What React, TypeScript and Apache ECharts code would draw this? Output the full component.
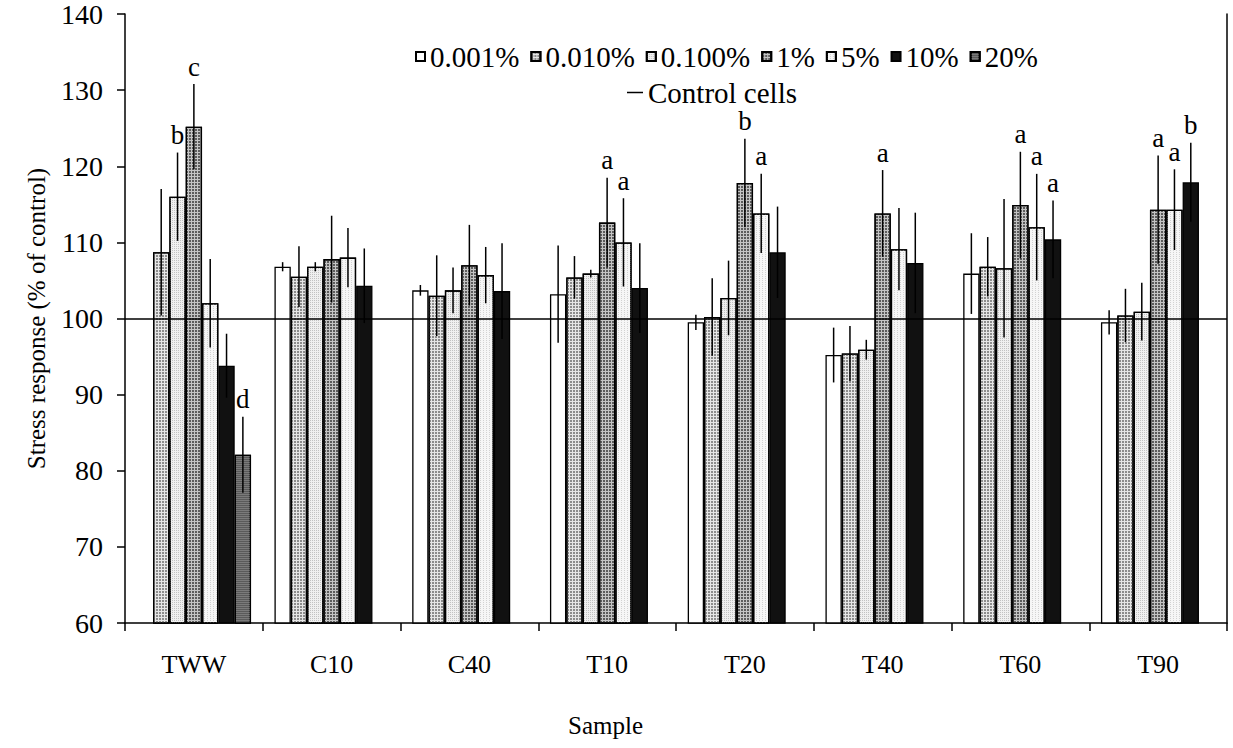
import React, { useEffect, useRef } from 'react';
import * as echarts from 'echarts';

const categories = ['TWW', 'C10', 'C40', 'T10', 'T20', 'T40', 'T60', 'T90'];
const seriesNames = ['0.001%', '0.010%', '0.100%', '1%', '5%', '10%', '20%'];
const controlName = 'Control cells';

const v0001 = [null, 106.8, 103.7, 103.2, 99.5, 95.2, 105.9, 99.5];
const v0010 = [108.7, 105.5, 103.0, 105.4, 100.2, 95.4, 106.8, 100.4];
const v0100 = [116.0, 106.8, 103.7, 105.9, 102.7, 95.9, 106.6, 100.9];
const v1 = [125.2, 107.8, 107.0, 112.6, 117.8, 113.8, 114.9, 114.3];
const v5 = [102.0, 108.0, 105.7, 110.0, 113.8, 109.1, 112.0, 114.3];
const v10 = [93.8, 104.3, 103.6, 104.0, 108.7, 107.3, 110.4, 117.9];
const v20 = [82.1, null, null, null, null, null, null, null];

const e0001 = [null, 0.6, 0.7, 6.4, 1.0, 3.6, 5.3, 1.6];
const e0010 = [8.3, 4.0, 5.3, 2.8, 5.1, 3.6, 3.9, 3.5];
const e0100 = [5.8, 0.6, 3.0, 0.5, 4.9, 1.3, 9.1, 3.8];
const e1 = [5.6, 5.7, 5.3, 5.9, 5.8, 5.7, 7.0, 7.1];
const e5 = [5.8, 3.9, 3.7, 5.8, 5.2, 5.4, 7.0, 5.3];
const e10 = [4.2, 4.9, 6.3, 5.9, 6.0, 6.6, 5.1, 5.2];
const e20 = [5.0, null, null, null, null, null, null, null];

const l0001 = ['', '', '', '', '', '', '', ''];
const l0010 = ['', '', '', '', '', '', '', ''];
const l0100 = ['b', '', '', '', '', '', '', ''];
const l1 = ['c', '', '', 'a', 'b', 'a', 'a', 'a'];
const l5 = ['', '', '', 'a', 'a', '', 'a', 'a'];
const l10 = ['', '', '', '', '', '', 'a', 'b'];
const l20 = ['d', '', '', '', '', '', '', ''];

const controlValue = 100;

const values = [v0001, v0010, v0100, v1, v5, v10, v20];
const errors = [e0001, e0010, e0100, e1, e5, e10, e20];
const letters = [l0001, l0010, l0100, l1, l5, l10, l20];

const SERIF = 'Liberation Serif';
const CAT_GAP = 0.17;

const barStyles: any[] = [
  { color: '#ffffff' },
  {
    color: '#e6e6e6',
    decal: { symbol: 'rect', symbolSize: 1, color: '#8c8c8c', dashArrayX: [[2, 1]], dashArrayY: [2, 1] },
  },
  {
    color: '#f0f0f0',
    decal: { symbol: 'rect', symbolSize: 1, color: '#c2c2c2', dashArrayX: [[1, 1]], dashArrayY: [1, 1] },
  },
  {
    color: '#c4c4c4',
    decal: { symbol: 'rect', symbolSize: 1, color: '#5c5c5c', dashArrayX: [[2, 1]], dashArrayY: [2, 1] },
  },
  {
    color: '#f6f6f6',
    decal: { symbol: 'rect', symbolSize: 1, color: '#d2d2d2', dashArrayX: [[1, 2]], dashArrayY: [1, 1] },
  },
  { color: '#111111' },
  {
    color: '#5a5a5a',
    decal: { symbol: 'rect', symbolSize: 1, color: '#7a7a7a', dashArrayX: [[4, 0]], dashArrayY: [1, 1] },
  },
];

export default function App() {
  const ref = useRef<HTMLDivElement>(null);

  useEffect(() => {
    document.body.style.margin = '0';
    if (!ref.current) return;
    const chart = echarts.init(ref.current, undefined, { renderer: 'svg' });

    const errData: any[] = [];
    const errLetters: string[] = [];
    values.forEach((arr, s) => {
      arr.forEach((v, c) => {
        if (v === null || v === undefined) return;
        errData.push([c, s, v, errors[s][c] ?? 0]);
        errLetters.push(letters[s][c] || '');
      });
    });

    const barSeries = seriesNames.map((name, s) => ({
      name,
      type: 'bar',
      data: values[s].map((v) => (v === null ? '-' : v)),
      barGap: '0%',
      barCategoryGap: CAT_GAP * 100 + '%',
      itemStyle: { ...barStyles[s], borderColor: '#000', borderWidth: 1.3 },
      z: 2,
    }));

    const legendText = { fontFamily: SERIF, fontSize: 29, color: '#000' };

    const option: any = {
      animation: false,
      textStyle: { fontFamily: SERIF },
      grid: { left: 125, right: 6, top: 14, bottom: 125, containLabel: false },
      legend: [
        {
          data: seriesNames,
          top: 37,
          left: 410,
          icon: 'rect',
          itemWidth: 9,
          itemHeight: 9,
          itemGap: 11,
          textStyle: legendText,
        },
        {
          data: [{ name: controlName, icon: 'rect' }],
          top: 73,
          left: 622,
          itemWidth: 16,
          itemHeight: 1.5,
          itemStyle: { color: '#000', borderWidth: 0 },
          textStyle: legendText,
        },
      ],
      xAxis: {
        type: 'category',
        data: categories,
        axisLine: { lineStyle: { color: '#000', width: 1.5 } },
        axisTick: { show: true, length: 8, lineStyle: { color: '#000', width: 1.5 } },
        axisLabel: { fontFamily: SERIF, fontSize: 26, color: '#000', margin: 28 },
        splitLine: { show: false },
      },
      yAxis: [
        {
          type: 'value',
          min: 60,
          max: 140,
          interval: 10,
          name: 'Stress response (% of control)',
          nameLocation: 'middle',
          nameGap: 76,
          nameTextStyle: { fontFamily: SERIF, fontSize: 25, color: '#000' },
          axisLine: { show: true, lineStyle: { color: '#000', width: 1.5 } },
          axisTick: { show: true, length: 8, lineStyle: { color: '#000', width: 1.5 } },
          axisLabel: { fontFamily: SERIF, fontSize: 28, color: '#000', margin: 22 },
          splitLine: { show: false },
        },
        {
          type: 'value',
          min: 60,
          max: 140,
          interval: 10,
          position: 'right',
          axisLine: { show: true, lineStyle: { color: '#000', width: 1.5 } },
          axisTick: { show: false },
          axisLabel: { show: false },
          splitLine: { show: false },
        },
      ],
      graphic: [
        {
          type: 'text',
          left: 568,
          top: 713,
          style: { text: 'Sample', fontFamily: SERIF, fontSize: 25, fill: '#000' },
        },
      ],
      series: [
        ...barSeries,
        {
          name: controlName,
          type: 'line',
          data: [],
          symbol: 'none',
          itemStyle: { color: '#000' },
          lineStyle: { color: '#000', width: 1.5 },
          markLine: {
            silent: true,
            symbol: 'none',
            label: { show: false },
            lineStyle: { color: '#000', width: 1.5, type: 'solid' },
            data: [{ yAxis: controlValue }],
          },
          z: 4,
        },
        {
          type: 'custom',
          name: 'err',
          clip: false,
          z: 5,
          data: errData,
          encode: { x: 0, y: 2 },
          renderItem: (params: any, api: any) => {
            const c = api.value(0);
            const s = api.value(1);
            const v = api.value(2);
            const e = api.value(3);
            const band = api.size([1, 0])[0];
            const bw = (band * (1 - CAT_GAP)) / 7;
            const base = api.coord([c, v]);
            const cx = base[0] + (s - 3) * bw;
            const top = api.coord([c, v + e])[1];
            const bot = api.coord([c, v - e])[1];
            const children: any[] = [
              {
                type: 'line',
                shape: { x1: cx, y1: top, x2: cx, y2: bot },
                style: { stroke: '#000', lineWidth: 1.5 },
              },
            ];
            const letter = errLetters[params.dataIndex];
            if (letter) {
              children.push({
                type: 'text',
                x: cx,
                y: top - 4,
                style: {
                  text: letter,
                  fontFamily: SERIF,
                  fontSize: 27,
                  fill: '#000',
                  align: 'center',
                  verticalAlign: 'bottom',
                },
              });
            }
            return { type: 'group', children };
          },
        },
      ],
    };

    chart.setOption(option);
    return () => chart.dispose();
  }, []);

  return (
    <div
      ref={ref}
      style={{ position: 'fixed', left: 0, top: 0, width: 1233, height: 748, background: '#fff' }}
    />
  );
}
